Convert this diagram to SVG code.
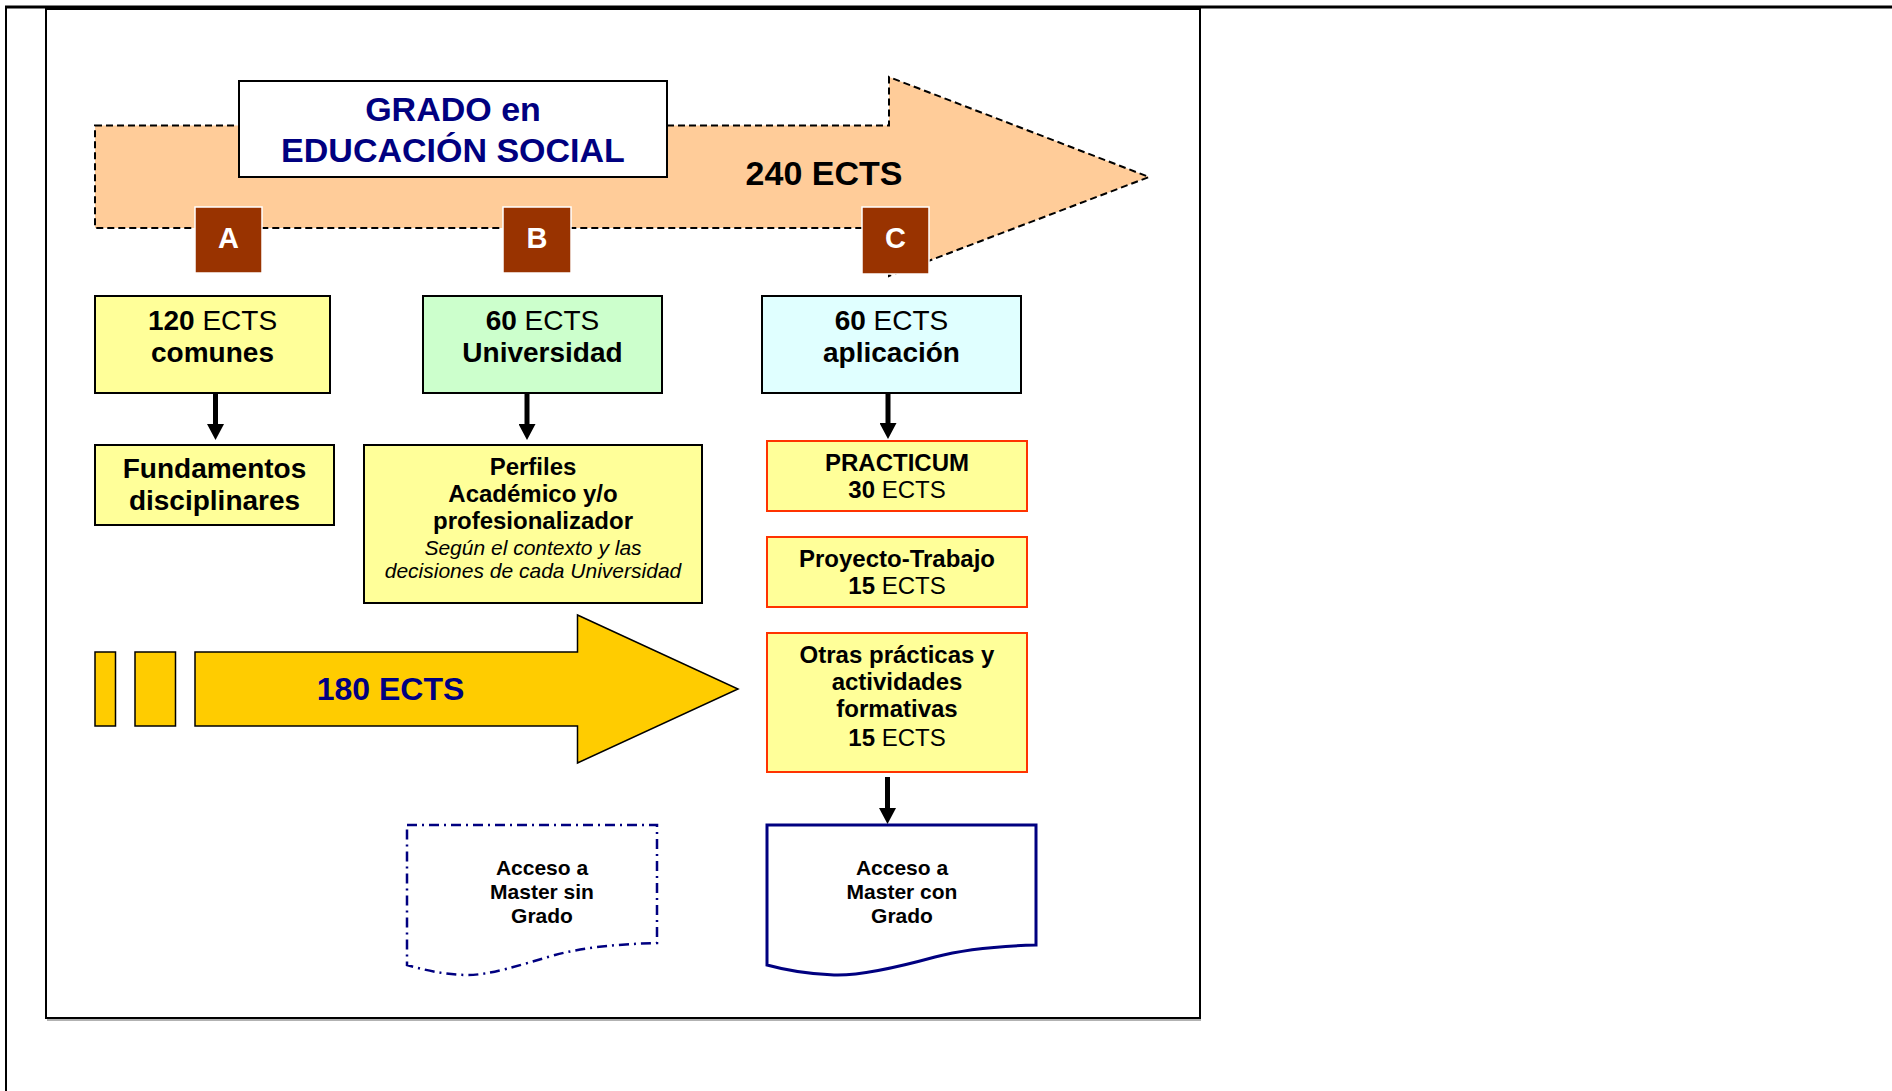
<svg xmlns="http://www.w3.org/2000/svg" width="1892" height="1091" viewBox="0 0 1892 1091">
<style>
text{font-family:"Liberation Sans",Arial,sans-serif;text-anchor:middle}
.b{font-weight:bold}
.n{font-weight:normal}
.box{stroke:#000;stroke-width:2}
.yel{fill:#FFFF99}
.red{fill:#FFFF99;stroke:#FF3300;stroke-width:2}
.abc{fill:#993300;stroke:#fff;stroke-width:1.5}
.abct{fill:#fff;font-weight:bold;font-size:29px}
.t28{font-size:28px}
.t24{font-size:24px;font-weight:bold}
.t20{font-size:21px;font-weight:bold}
.conn{stroke:#000;stroke-width:5;fill:none}
.navy{fill:#000080}
</style>
<defs>
<marker id="ah" markerUnits="userSpaceOnUse" markerWidth="17" markerHeight="17" viewBox="0 0 16 17" refX="2" refY="8.5" orient="auto">
<path d="M0,0 L16,8.5 L0,17 Z" fill="#000"/>
</marker>
</defs>
<rect width="1892" height="1091" fill="#fff"/>
<g id="frame">
<rect x="46" y="9" width="1154" height="1009" fill="#fff" stroke="#000" stroke-width="2"/>
<line x1="47" y1="1020" x2="1201" y2="1020" stroke="#999" stroke-width="1.5"/>
<line x1="5" y1="7" x2="1892" y2="7" stroke="#000" stroke-width="3"/>
<line x1="6" y1="7" x2="6" y2="1091" stroke="#000" stroke-width="2"/>
</g>
<g id="arrow240">
<path d="M95,125.5 H889 V77 L1149,177 L889,276 V228 H95 Z" fill="#FFCC99" stroke="#000" stroke-width="2" stroke-dasharray="7,4"/>
<text x="824" y="185" class="b" font-size="34">240 ECTS</text>
</g>
<g id="title">
<rect x="239" y="81" width="428" height="96" fill="#fff" stroke="#000" stroke-width="2"/>
<text x="453" y="121" class="b navy" font-size="34">GRADO en</text>
<text x="453" y="162" class="b navy" font-size="34">EDUCACIÓN SOCIAL</text>
</g>
<g id="A">
<rect x="195" y="207" width="67" height="66" class="abc"/>
<text x="228.5" y="248" class="abct">A</text>
</g>
<g id="B">
<rect x="503" y="207" width="68" height="66" class="abc"/>
<text x="537" y="248" class="abct">B</text>
</g>
<g id="C">
<rect x="862" y="207" width="67" height="67" class="abc"/>
<text x="895.5" y="248" class="abct">C</text>
</g>
<g id="comunes">
<rect x="95" y="296" width="235" height="97" class="box yel"/>
<text x="212.5" y="330" class="t28"><tspan class="b">120</tspan><tspan class="n"> ECTS</tspan></text>
<text x="212.5" y="362" class="t28 b">comunes</text>
</g>
<g id="universidad">
<rect x="423" y="296" width="239" height="97" class="box" fill="#CCFFCC"/>
<text x="542.5" y="330" class="t28"><tspan class="b">60</tspan><tspan class="n"> ECTS</tspan></text>
<text x="542.5" y="362" class="t28 b">Universidad</text>
</g>
<g id="aplicacion">
<rect x="762" y="296" width="259" height="97" class="box" fill="#E0FFFF"/>
<text x="891.5" y="330" class="t28"><tspan class="b">60</tspan><tspan class="n"> ECTS</tspan></text>
<text x="891.5" y="362" class="t28 b">aplicación</text>
</g>
<g id="fundamentos">
<rect x="95" y="445" width="239" height="80" class="box yel"/>
<text x="214.5" y="478" class="t28 b">Fundamentos</text>
<text x="214.5" y="510" class="t28 b">disciplinares</text>
</g>
<g id="perfiles">
<rect x="364" y="445" width="338" height="158" class="box yel"/>
<text x="533" y="475" class="t24">Perfiles</text>
<text x="533" y="502" class="t24">Académico y/o</text>
<text x="533" y="529" class="t24">profesionalizador</text>
<text x="533" y="555" font-size="21" font-style="italic">Según el contexto y las</text>
<text x="533" y="578" font-size="21" font-style="italic">decisiones de cada Universidad</text>
</g>
<g id="practicum">
<rect x="767" y="441" width="260" height="70" class="red"/>
<text x="897" y="471" class="t24">PRACTICUM</text>
<text x="897" y="498" font-size="24"><tspan class="b">30</tspan><tspan class="n"> ECTS</tspan></text>
</g>
<g id="proyecto">
<rect x="767" y="537" width="260" height="70" class="red"/>
<text x="897" y="567" class="t24">Proyecto-Trabajo</text>
<text x="897" y="594" font-size="24"><tspan class="b">15</tspan><tspan class="n"> ECTS</tspan></text>
</g>
<g id="otras">
<rect x="767" y="633" width="260" height="139" class="red"/>
<text x="897" y="663" class="t24">Otras prácticas y</text>
<text x="897" y="690" class="t24">actividades</text>
<text x="897" y="717" class="t24">formativas</text>
<text x="897" y="746" font-size="24"><tspan class="b">15</tspan><tspan class="n"> ECTS</tspan></text>
</g>
<g id="arrow180">
<rect x="95" y="652" width="20.5" height="74" fill="#FFCC00" stroke="#000" stroke-width="1.5"/>
<rect x="135" y="652" width="40.5" height="74" fill="#FFCC00" stroke="#000" stroke-width="1.5"/>
<path d="M195,652 H577.5 V615 L738,689 L577.5,763 V726 H195 Z" fill="#FFCC00" stroke="#000" stroke-width="1.5"/>
<text x="390.5" y="700" class="b navy" font-size="32">180 ECTS</text>
</g>
<g id="masterSin">
<path d="M407,825 H657 V943 C620,944 585,947 555,955 C520,965 490,975 468,975 C445,975 425,970 407,965 Z" fill="#fff" stroke="#000080" stroke-width="2.5" stroke-dasharray="10,5,2,5"/>
<text x="542" y="875" class="t20">Acceso a</text>
<text x="542" y="899" class="t20">Master sin</text>
<text x="542" y="923" class="t20">Grado</text>
</g>
<g id="masterCon">
<path d="M767,825 H1036 V945 C1000,946 965,949 935,957 C895,968 860,976 834,975 C805,974 785,970 767,965 Z" fill="#fff" stroke="#000080" stroke-width="3"/>
<text x="902" y="875" class="t20">Acceso a</text>
<text x="902" y="899" class="t20">Master con</text>
<text x="902" y="923" class="t20">Grado</text>
</g>
<g id="connectors">
<line x1="215.5" y1="393" x2="215.5" y2="426" class="conn" marker-end="url(#ah)"/>
<line x1="527" y1="393" x2="527" y2="426" class="conn" marker-end="url(#ah)"/>
<line x1="888" y1="393" x2="888" y2="425" class="conn" marker-end="url(#ah)"/>
<line x1="887.5" y1="777" x2="887.5" y2="810" class="conn" marker-end="url(#ah)"/>
</g>
</svg>
